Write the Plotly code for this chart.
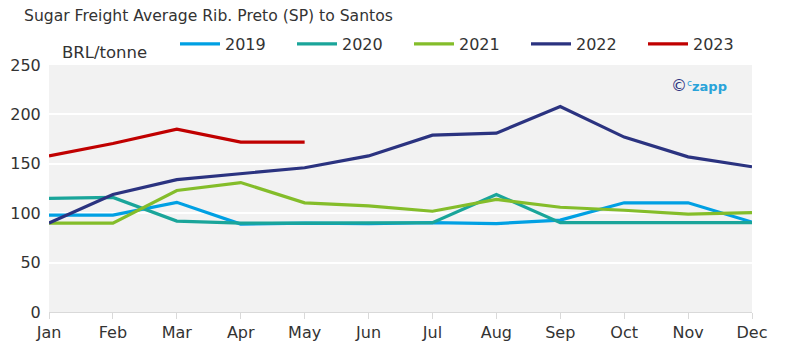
import plotly.graph_objects as go

months = ["Jan", "Feb", "Mar", "Apr", "May", "Jun", "Jul", "Aug", "Sep", "Oct", "Nov", "Dec"]
y2019 = [98, 98, 111, 89, 90, 89.5, 90.5, 89.5, 93, 110.5, 110.5, 91]
y2020 = [115, 116, 92, 90, 90, 90, 90.5, 119, 90.5, 90.5, 90.5, 90.5]
y2021 = [90, 90, 123, 131, 110.5, 107.5, 102, 114, 106, 103, 99, 100.5]
y2022 = [90, 119, 134, 140, 146, 158, 179, 181, 208, 177, 157, 147]
y2023 = [158, 170.5, 185, 172, 172]

series = [
    ("2019", y2019, "#00a0e3"),
    ("2020", y2020, "#1aa59a"),
    ("2021", y2021, "#84bd2a"),
    ("2022", y2022, "#2b3380"),
    ("2023", y2023, "#c00000"),
]

FONT = "DejaVu Sans"
TXT = "#333333"
OFF = 8  # page body margin
W, H = 786 - OFF, 357 - OFF
# plot area in screen pixels: x 49..752, y 65..312
L, R, T, B = 49 - OFF, 786 - 752, 65 - OFF, 357 - 312
PW, PH = W - L - R, H - T - B


def px(x):
    return (x - OFF - L) / PW


def py(y):
    return (H - B - (y - OFF)) / PH


fig = go.Figure()
for name, vals, col in series:
    fig.add_trace(go.Scatter(x=months[:len(vals)], y=vals, name=name, mode="lines",
                             line=dict(color=col, width=3.2)))

fig.update_layout(
    width=W, height=H,
    margin=dict(l=L, r=R, t=T, b=B, autoexpand=False),
    paper_bgcolor="white", plot_bgcolor="#f2f2f2",
    font=dict(family=FONT, size=16, color=TXT),
    showlegend=True,
    legend=dict(orientation="h", xref="container", yref="container",
                x=(175 - OFF) / W, xanchor="left", y=1 - (44 - OFF) / H, yanchor="middle",
                font=dict(family=FONT, size=16, color=TXT),
                entrywidth=62, itemwidth=40, bgcolor="rgba(0,0,0,0)"),
    xaxis=dict(range=[0, 11], showgrid=False, showline=True, linecolor="#d9d9d9",
               linewidth=1, ticks="outside", ticklen=6, tickcolor="#d9d9d9",
               tickfont=dict(family=FONT, size=16, color=TXT), fixedrange=True),
    yaxis=dict(range=[0, 250], dtick=50, showgrid=True, gridcolor="white", gridwidth=1.5,
               zeroline=False, showline=False, ticks="outside", ticklen=4,
               tickcolor="rgba(0,0,0,0)",
               tickfont=dict(family=FONT, size=16, color=TXT), fixedrange=True),
    annotations=[
        dict(text="Sugar Freight Average Rib. Preto (SP) to Santos", xref="paper", yref="paper",
             x=px(22), y=py(16), xanchor="left", yanchor="middle", showarrow=False,
             font=dict(family=FONT, size=15.6, color=TXT)),
        dict(text="BRL/tonne", xref="paper", yref="paper", x=px(60), y=py(52),
             xanchor="left", yanchor="middle", showarrow=False,
             font=dict(family=FONT, size=16.5, color=TXT)),
        dict(text="<span style='color:#2b3380;font-size:16px'>©</span>"
                  "<span style='color:#29a3d9'><sup>c</sup><b>zapp</b></span>",
             xref="paper", yref="paper", x=px(729), y=py(85), xanchor="right",
             yanchor="middle", showarrow=False, font=dict(family=FONT, size=13)),
    ],
)

fig.write_html("out.html")
